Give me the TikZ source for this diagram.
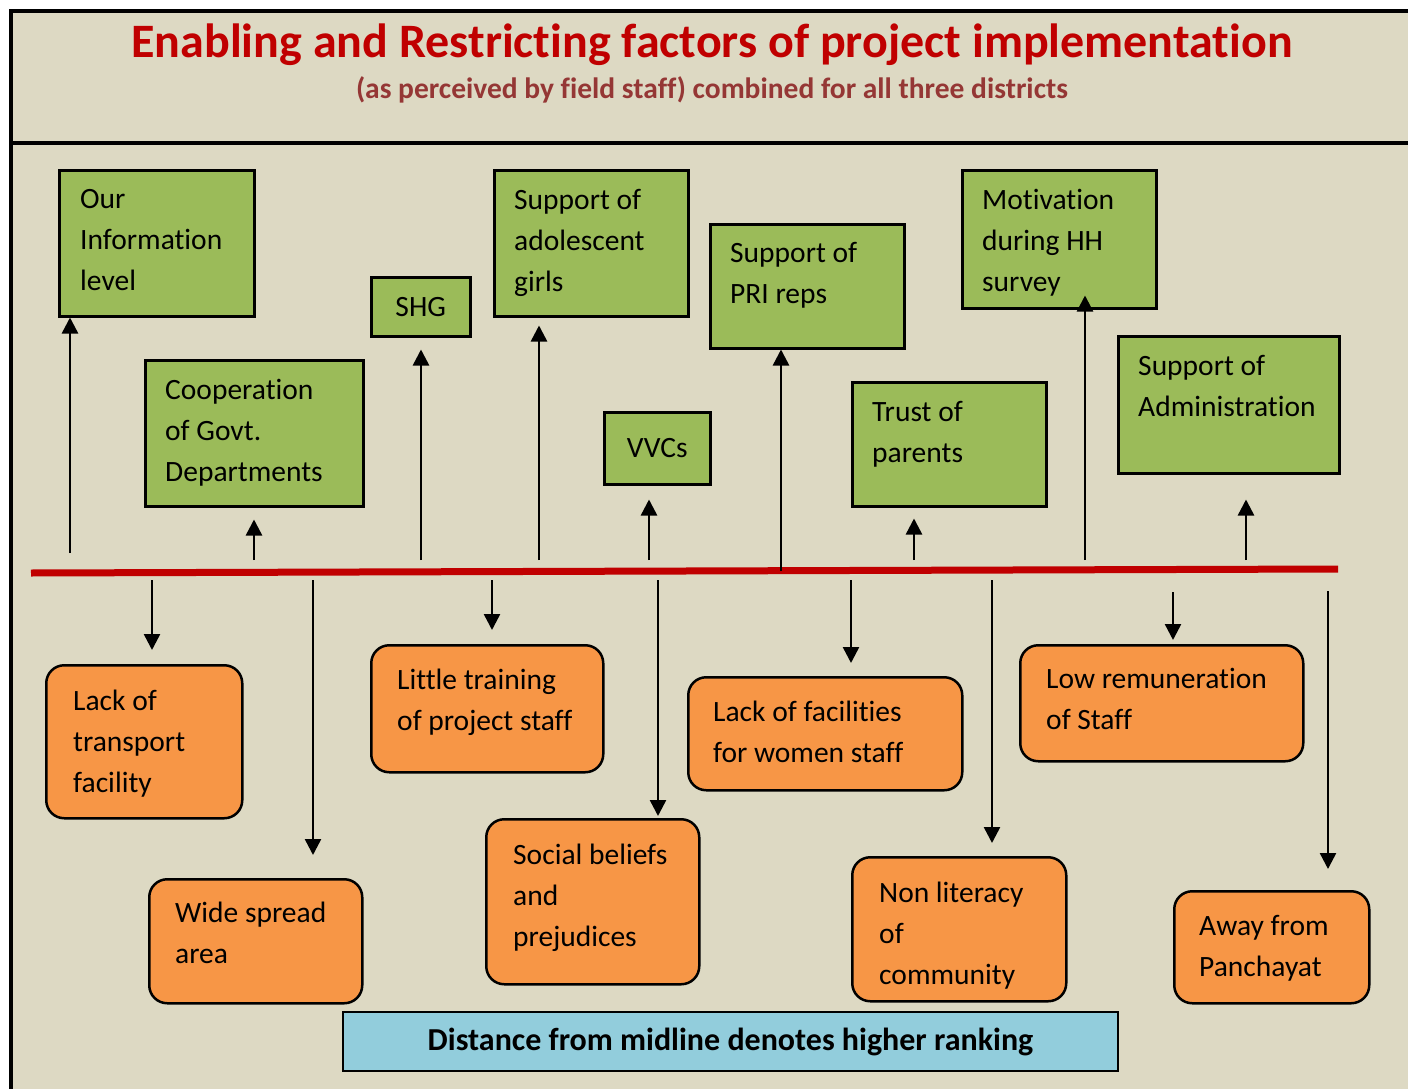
\documentclass[tikz,border=0pt]{standalone}
\usepackage{fontspec}
\setmainfont{Carlito}[Ligatures={NoCommon}]
\usetikzlibrary{arrows.meta}

\definecolor{paper}{HTML}{DDD9C3}
\definecolor{enable}{HTML}{9BBB59}
\definecolor{restrict}{HTML}{F79646}
\definecolor{note}{HTML}{92CDDC}
\definecolor{titlered}{HTML}{C00000}
\definecolor{subred}{HTML}{953735}

\tikzset{
  plus/.style={draw, line width=2.5pt, fill=enable, anchor=north west, inner sep=0,
    font=\fontsize{29.5}{41}\selectfont},
  minus/.style={draw, line width=2.5pt, fill=restrict, rounded corners=18pt,
    anchor=north west, inner sep=0},
  lbl/.style={anchor=north west, inner sep=0, align=left, font=\fontsize{29.5}{41}\selectfont},
  arr/.style={line width=2.5pt, -{Triangle[width=16pt,length=16pt]}},
}

\begin{document}
\begin{tikzpicture}[x=1pt, y=-1pt]
\useasboundingbox (0,0) rectangle (1408,1089);
\fill[white] (0,0) rectangle (1408,1089);
% frame and heading
\draw[line width=4pt, fill=paper] (11,11) rectangle (1430,1110);
\draw[line width=4pt] (11,143) -- (1430,143);
\node[font=\fontsize{48}{54}\selectfont\bfseries, text=titlered, anchor=base] (title)
  at (712,58) {Enabling and Restricting factors of project implementation};
\node[font=\fontsize{29.5}{34}\selectfont\bfseries, text=subred, anchor=base] (subtitle)
  at (712,99) {(as perceived by field staff) combined for all three districts};

% midline
\coordinate (ml-l) at (31,573);
\coordinate (ml-r) at (1338,569);
\draw[titlered, line width=7pt] (ml-l) -- (ml-r);

% enabling factors
\node[plus, minimum width=195, minimum height=146] (info) at (58,169) {};
\node[lbl] (info-t) at (80,189) {Our\\Information\\level};
\node[plus, minimum width=218, minimum height=146] (coop) at (144,359) {};
\node[lbl] (coop-t) at (165,379) {Cooperation\\of Govt.\\Departments};
\node[plus, minimum width=99, minimum height=59] (shg) at (370,276) {SHG};
\node[plus, minimum width=194, minimum height=146] (girls) at (493,169) {};
\node[lbl] (girls-t) at (514,189) {Support of\\adolescent\\girls};
\node[plus, minimum width=106, minimum height=72] (vvc) at (603,411) {VVCs};
\node[plus, minimum width=194, minimum height=124] (pri) at (709,223) {};
\node[lbl] (pri-t) at (730,242) {Support of\\PRI reps};
\node[plus, minimum width=194, minimum height=124] (trust) at (851,381) {};
\node[lbl] (trust-t) at (872,401) {Trust of\\parents};
\node[plus, minimum width=194, minimum height=138] (mot) at (961,169) {};
\node[lbl] (mot-t) at (982,189) {Motivation\\during HH\\survey};
\node[plus, minimum width=221, minimum height=137] (admin) at (1117,335) {};
\node[lbl] (admin-t) at (1138,355) {Support of\\Administration};

% restricting factors
\node[minus, minimum width=196, minimum height=153] (transport) at (45,664) {};
\node[lbl] (transport-t) at (73,690) {Lack of\\transport\\facility};
\node[minus, minimum width=213, minimum height=124] (spread) at (148,878) {};
\node[lbl] (spread-t) at (175,902) {Wide spread\\area};
\node[minus, minimum width=232, minimum height=127] (training) at (370,644) {};
\node[lbl] (training-t) at (397,669) {Little training\\of project staff};
\node[minus, minimum width=213, minimum height=165] (beliefs) at (485,818) {};
\node[lbl] (beliefs-t) at (513,844) {Social beliefs\\and\\prejudices};
\node[minus, minimum width=274, minimum height=113] (women) at (687,676) {};
\node[lbl] (women-t) at (713,701) {Lack of facilities\\for women staff};
\node[minus, minimum width=214, minimum height=144] (literacy) at (851,856) {};
\node[lbl] (literacy-t) at (879,882) {Non literacy\\of\\community};
\node[minus, minimum width=283, minimum height=116] (pay) at (1019,644) {};
\node[lbl] (pay-t) at (1046,668) {Low remuneration\\of Staff};
\node[minus, minimum width=195, minimum height=112] (panchayat) at (1173,890) {};
\node[lbl] (panchayat-t) at (1199,915) {Away from\\Panchayat};

% arrows up to the enabling side
\foreach \x/\y/\b/\g in {70/553/info/0, 254/560/coop/12, 421/560/shg/12,
    539/560/girls/8, 649/560/vvc/14, 781/571/pri/0, 914/560/trust/11,
    1085/560/mot/-14, 1246/560/admin/25} {
  \coordinate (up-\b) at (\x,\y);
  \draw[arr, shorten >=\g pt] (up-\b) -- (up-\b |- \b.south);
}
% arrows down to the restricting side
\foreach \x/\y/\b/\g in {152/580/transport/14, 313/580/spread/23,
    492/580/training/14, 658/580/beliefs/2, 851/580/women/13,
    992/580/literacy/13, 1173/592/pay/4, 1328/591/panchayat/21} {
  \coordinate (dn-\b) at (\x,\y);
  \draw[arr, shorten >=\g pt] (dn-\b) -- (dn-\b |- \b.north);
}

% key
\node[draw, line width=2pt, fill=note, anchor=north west, minimum width=775,
  minimum height=59, font=\fontsize{32}{38}\selectfont\bfseries] (key) at (342,1011)
  {Distance from midline denotes higher ranking};
\end{tikzpicture}
\end{document}
